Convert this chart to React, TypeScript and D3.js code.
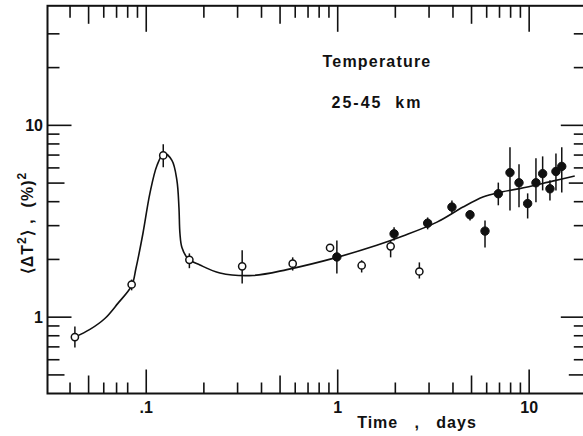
import React from "react";
import * as d3 from "d3";

// ---- data ----
const openX = [0.0424, 0.0839, 0.1227, 0.168, 0.317, 0.582, 0.912, 1.334, 1.89, 2.67];
const openY = [0.787, 1.48, 6.97, 1.99, 1.84, 1.9, 2.3, 1.86, 2.34, 1.73];
const openLo = [0.695, 1.38, 6.04, 1.8, 1.5, 1.75, 2.3, 1.71, 2.05, 1.59];
const openHi = [0.894, 1.57, 7.96, 2.15, 2.23, 2.05, 2.3, 1.98, 2.51, 1.93];

const fillX = [0.99, 1.97, 2.95, 3.95, 4.91, 5.88, 6.9, 7.94, 8.85, 9.82, 10.85, 11.76, 12.84, 13.8, 14.8];
const fillY = [2.06, 2.72, 3.09, 3.75, 3.42, 2.81, 4.4, 5.67, 5.02, 3.91, 5.02, 5.6, 4.67, 5.75, 6.11];
const fillLo = [1.69, 2.51, 2.87, 3.48, 3.19, 2.31, 3.83, 3.6, 3.74, 3.27, 3.97, 4.58, 4.06, 4.58, 4.47];
const fillHi = [2.51, 2.94, 3.31, 4.06, 3.6, 3.19, 5.03, 7.68, 6.26, 4.42, 6.73, 6.89, 5.17, 7.14, 7.68];

const curveX = [0.0424, 0.0508, 0.0608, 0.0711, 0.0839, 0.0884, 0.0961, 0.1045, 0.1138, 0.1237, 0.1362, 0.1446, 0.1482, 0.15, 0.1536, 0.1651, 0.1908, 0.2426, 0.3607, 0.543, 0.99, 1.6, 2.19, 3.3, 4.51, 5.73, 6.87, 8.91, 13.25, 17.3];
const curveY = [0.787, 0.863, 0.984, 1.18, 1.46, 1.8, 2.73, 4.42, 6.18, 7.14, 6.57, 5.17, 3.73, 2.73, 2.31, 2.02, 1.87, 1.7, 1.65, 1.77, 2.05, 2.37, 2.65, 3.13, 3.75, 4.23, 4.46, 4.68, 5.12, 5.44];

const xDomain = [0.0305, 20];
const yDomain = [0.4, 42];
const xMajor = [0.1, 1, 10];
const xMajorLabels = [".1", "1", "10"];
const xMid = [0.05, 0.5, 5];
const xMinorTop = [0.04, 0.06, 0.07, 0.08, 0.09, 0.2, 0.3, 0.4, 0.6, 0.7, 0.8, 0.9, 2, 3, 4, 6, 7, 8, 9];
const xMinorBottom = [0.04, 0.06, 0.07, 0.08, 0.2, 0.3, 0.4, 0.6, 0.7, 0.8, 0.9, 2, 3, 4, 6, 7, 8, 9];
const yMajor = [1, 10];
const yMajorLabels = ["1", "10"];
const yMid = [0.5, 5];
const yMinor = [0.6, 0.7, 0.8, 0.9, 2, 3, 4, 6, 7, 8, 9, 20, 30];

const W = 583;
const H = 436;

export default function App() {
  const x = d3.scaleLog().domain(xDomain).range([47.5, 586.8]);
  const y = d3.scaleLog().domain(yDomain).range([393.5, 5.8]);
  const [x0, x1] = x.range();
  const [y0, y1] = y.range();

  const line = d3
    .line<number>()
    .x((_, i) => x(curveX[i]))
    .y((d) => y(d))
    .curve(d3.curveCatmullRom.alpha(0.5));

  const font = "'Liberation Sans', Arial, sans-serif";
  const tickSW = 1.6;

  const vTicks = (vals: number[], len: number, key: string) =>
    vals.map((v) => (
      <line key={key + v} x1={x(v)} x2={x(v)} y1={y1} y2={y1 + len} stroke="#111" strokeWidth={tickSW} />
    ));
  const bTicks = (vals: number[], len: number, key: string) =>
    vals.map((v) => (
      <line key={key + v} x1={x(v)} x2={x(v)} y1={y0} y2={y0 - len} stroke="#111" strokeWidth={tickSW} />
    ));
  const lTicks = (vals: number[], len: number, key: string) =>
    vals.map((v) => (
      <line key={key + v} x1={x0} x2={x0 + len} y1={y(v)} y2={y(v)} stroke="#111" strokeWidth={tickSW} />
    ));
  const rTicks = (vals: number[], len: number, key: string) =>
    vals.map((v) => (
      <line key={key + v} x1={x1} x2={x1 - len} y1={y(v)} y2={y(v)} stroke="#111" strokeWidth={tickSW} />
    ));

  return (
    <svg
      width={W}
      height={H}
      viewBox={`0 0 ${W} ${H}`}
      style={{ position: "fixed", left: 0, top: 0, background: "#fff" }}
    >
      <rect x={0} y={0} width={W} height={H} fill="#fff" />
      {/* frame */}
      <rect x={x0} y={y1} width={x1 - x0} height={y0 - y1} fill="none" stroke="#111" strokeWidth={2} />

      {/* ticks */}
      {vTicks(xMinorTop, 12, "tm")}
      {vTicks(xMid, 18, "td")}
      {vTicks(xMajor, 26, "tM")}
      {bTicks(xMinorBottom, 11, "bm")}
      {bTicks(xMid, 18, "bd")}
      {bTicks(xMajor, 24, "bM")}
      {lTicks(yMinor, 12, "lm")}
      {lTicks(yMid, 17, "ld")}
      {lTicks(yMajor, 24, "lM")}
      {rTicks(yMinor, 13, "rm")}
      {rTicks(yMid, 18, "rd")}
      {rTicks(yMajor, 26, "rM")}

      {/* tick labels */}
      {xMajor.map((v, i) => (
        <text key={"xl" + v} x={x(v)} y={413} textAnchor="middle" fontFamily={font} fontWeight="bold" fontSize={16} fill="#111">
          {xMajorLabels[i]}
        </text>
      ))}
      {yMajor.map((v, i) => (
        <text key={"yl" + v} x={43} y={y(v) + 6} textAnchor="end" fontFamily={font} fontWeight="bold" fontSize={16} fill="#111">
          {yMajorLabels[i]}
        </text>
      ))}

      {/* curve */}
      <path d={line(curveY) || ""} fill="none" stroke="#111" strokeWidth={1.6} />

      {/* error bars */}
      {openX.map((v, i) => (
        <line key={"oe" + i} x1={x(v)} x2={x(v)} y1={y(openLo[i])} y2={y(openHi[i])} stroke="#111" strokeWidth={1.5} />
      ))}
      {fillX.map((v, i) => (
        <line key={"fe" + i} x1={x(v)} x2={x(v)} y1={y(fillLo[i])} y2={y(fillHi[i])} stroke="#111" strokeWidth={1.5} />
      ))}

      {/* points */}
      {openX.map((v, i) => (
        <circle key={"o" + i} cx={x(v)} cy={y(openY[i])} r={3.6} fill="#fff" stroke="#111" strokeWidth={1.5} />
      ))}
      {fillX.map((v, i) => (
        <circle key={"f" + i} cx={x(v)} cy={y(fillY[i])} r={4.2} fill="#111" stroke="#111" strokeWidth={1} />
      ))}

      {/* annotation */}
      <text x={377} y={67} textAnchor="middle" fontFamily={font} fontWeight="bold" fontSize={16} letterSpacing={1.2} fill="#111">
        Temperature
      </text>
      <text x={377} y={108} textAnchor="middle" fontFamily={font} fontWeight="bold" fontSize={16} letterSpacing={2} fill="#111" xmlSpace="preserve">
        25-45  km
      </text>

      {/* axis titles */}
      <text x={417} y={428} textAnchor="middle" fontFamily={font} fontWeight="bold" fontSize={16} letterSpacing={1} fill="#111" xmlSpace="preserve">
        Time   ,   days
      </text>
      <text
        transform={`translate(33,223) rotate(-90)`}
        textAnchor="middle"
        fontFamily={font}
        fontWeight="bold"
        fontSize={16}
        letterSpacing={1}
        fill="#111"
        xmlSpace="preserve"
      >
        <tspan>⟨ΔT</tspan>
        <tspan dy={-7} fontSize={12}>2</tspan>
        <tspan dy={7}>⟩ ,  (%)</tspan>
        <tspan dy={-7} fontSize={12}>2</tspan>
      </text>
    </svg>
  );
}
